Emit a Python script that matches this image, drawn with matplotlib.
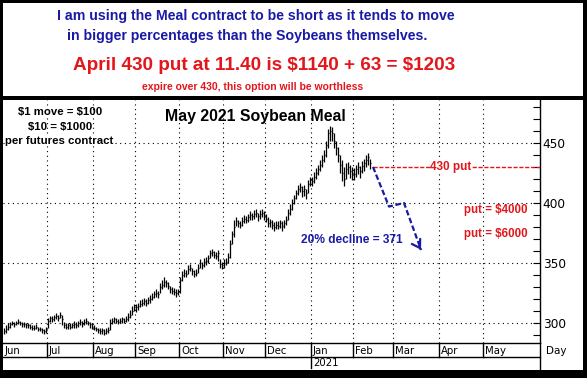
import numpy as np
import matplotlib
matplotlib.use('Agg')
import matplotlib.pyplot as plt
from matplotlib import transforms
from matplotlib.patches import Rectangle
from matplotlib.lines import Line2D
from matplotlib.ticker import MultipleLocator, FixedLocator

# ---------------- data (daily bars, May 2021 Soybean Meal) ----------------
start_date = '2020-06-01'
closes = [
    293, 295, 297, 299, 300, 299, 300, 301, 300, 299, 299, 298, 298, 297, 296, 296, 297, 295, 295, 294, 293, 294,        # Jun
    302, 304, 303, 305, 306, 304, 307, 303, 298, 297, 298, 297, 298, 299, 298, 300, 301, 299, 301, 302, 300, 299, 297,   # Jul
    296, 295, 294, 293, 294, 292, 293, 294, 300, 302, 303, 302, 301, 302, 303, 302, 303, 305, 307, 310, 313,             # Aug
    313, 314, 316, 317, 318, 317, 319, 320, 322, 324, 325, 324, 330, 332, 334, 333, 331, 328, 327, 326, 325, 326,        # Sep
    336, 340, 342, 341, 345, 346, 343, 341, 342, 346, 350, 348, 351, 352, 354, 358, 359, 357, 356, 358, 349, 348,        # Oct
    350, 351, 355, 366, 374, 380, 385, 383, 382, 385, 387, 386, 388, 390, 389, 391, 392, 389, 391, 392, 390,             # Nov
    387, 383, 384, 382, 380, 382, 381, 383, 381, 383, 386, 392, 395, 400, 404, 408, 412, 413, 410, 412, 408, 416, 419,   # Dec
    418, 422, 425, 428, 432, 436, 440, 448, 458, 460, 458, 452, 446, 440, 432, 425, 420, 428, 430, 427, 425,             # Jan
    424, 428, 430, 427, 431, 433, 436, 438, 433,                                                                         # Feb
]
highs = [
    296, 298, 300, 301, 302, 301, 302, 303, 302, 301, 301, 300, 300, 299, 298, 298, 299, 297, 297, 296, 295, 297,
    304, 306, 306, 307, 308, 307, 309, 307, 301, 300, 300, 300, 300, 302, 301, 302, 303, 302, 303, 304, 302, 301, 300,
    298, 297, 296, 296, 296, 295, 296, 297, 303, 304, 305, 304, 303, 304, 305, 304, 306, 308, 311, 314, 316,
    316, 317, 319, 320, 321, 320, 322, 323, 325, 327, 328, 327, 333, 336, 338, 336, 334, 331, 330, 329, 328, 328,
    338, 343, 345, 344, 348, 349, 346, 344, 345, 349, 353, 351, 354, 355, 357, 361, 362, 360, 359, 361, 353, 351,
    353, 354, 358, 369, 377, 386, 388, 386, 385, 388, 390, 389, 391, 393, 392, 394, 395, 392, 394, 395, 393,
    391, 388, 387, 386, 384, 385, 385, 386, 385, 386, 389, 395, 399, 403, 407, 411, 415, 417, 414, 415, 412, 419, 422,
    422, 426, 429, 432, 436, 440, 444, 452, 462, 464, 463, 458, 452, 447, 440, 436, 430, 433, 434, 432, 430,
    429, 432, 434, 431, 435, 437, 440, 442, 437,
]
lows = [
    291, 292, 294, 296, 298, 297, 298, 299, 298, 297, 297, 296, 296, 295, 294, 294, 295, 293, 293, 292, 291, 292,
    296, 301, 301, 302, 303, 302, 304, 298, 296, 295, 295, 295, 296, 296, 296, 297, 298, 297, 298, 299, 298, 296, 295,
    294, 293, 292, 291, 291, 290, 291, 292, 294, 299, 300, 300, 299, 300, 300, 300, 301, 302, 304, 307, 310,
    309, 311, 313, 314, 315, 314, 316, 317, 319, 321, 322, 321, 325, 328, 330, 330, 328, 325, 324, 323, 322, 323,
    325, 335, 338, 338, 341, 343, 340, 338, 339, 342, 346, 345, 347, 348, 350, 354, 356, 354, 353, 352, 346, 345,
    346, 348, 350, 354, 366, 372, 381, 380, 379, 381, 383, 383, 384, 386, 386, 387, 388, 385, 387, 388, 386,
    384, 380, 380, 378, 377, 378, 378, 379, 377, 379, 382, 386, 390, 394, 399, 403, 407, 409, 405, 406, 403, 408, 414,
    414, 417, 420, 423, 427, 430, 434, 438, 446, 452, 452, 446, 440, 434, 425, 418, 414, 420, 424, 421, 419,
    419, 422, 424, 421, 425, 427, 430, 432, 428,
]
month_labels = ['Jun', 'Jul', 'Aug', 'Sep', 'Oct', 'Nov', 'Dec', 'Jan', 'Feb', 'Mar', 'Apr', 'May']
month_starts = ['2020-06-01', '2020-07-01', '2020-08-01', '2020-09-01', '2020-10-01', '2020-11-01',
                '2020-12-01', '2021-01-01', '2021-02-01', '2021-03-01', '2021-04-01', '2021-05-01']
year_label = '2021'
y_major = [300, 350, 400, 450]
put_strike = 430
# projected path (trading-day index, price) drawn as the dashed blue arrow
arrow_days = [184.5, 192.5, 200.0, 208.5]
arrow_prices = [430, 397, 400, 361]

# ---------------- layout helpers ----------------
W, H = 587, 378
plt.rcParams['font.family'] = ['Liberation Sans', 'DejaVu Sans']
fig = plt.figure(figsize=(W / 100, H / 100), dpi=100)
fig.patch.set_facecolor('white')

def fx(px):
    return px / W

def fy(py):
    return 1 - py / H

BLUE = '#1a1aa6'
RED = '#e3161b'

ax = fig.add_axes([fx(3), fy(343), fx(540) - fx(3), fy(100) - fy(343)])
n = min(len(closes), len(highs), len(lows))
idx = np.arange(n)
xmin, xmax = -0.5, 268.0
ymin, ymax = 283.3, 485.8
ax.set_xlim(xmin, xmax)
ax.set_ylim(ymin, ymax)

seps = np.array([np.busday_count(start_date, m) for m in month_starts]) - 0.5

# grid
dots = (0, (1, 3.2))
ax.hlines(y_major, xmin, xmax, colors='black', linestyles=dots, lw=0.8, zorder=1)
ax.vlines(seps[1:], ymin, ymax, colors='black', linestyles=dots, lw=0.8, zorder=1)

# bars
ax.vlines(idx, np.array(lows[:n]), np.array(highs[:n]), colors='black', lw=0.9, zorder=3)
ax.hlines(np.array(closes[:n]), idx, idx + 0.7, colors='black', lw=0.9, zorder=3)

# 430 put line
ax.hlines(put_strike, n + 0.5, xmax, colors=RED, linestyles=(0, (3, 1.2)), lw=1.0, zorder=4)
ax.text(223.5, put_strike, '430 put', color=RED, fontsize=8.5, fontweight='bold',
        ha='center', va='center', zorder=5,
        bbox=dict(facecolor='white', edgecolor='none', pad=0.3))

# projected decline arrow
ax.plot(arrow_days, arrow_prices, color=BLUE, lw=1.6, linestyle=(0, (2.5, 1.2)), zorder=5)
ax.annotate('', xy=(arrow_days[-1], arrow_prices[-1]),
            xytext=(arrow_days[-1] - 0.9, arrow_prices[-1] + 2.5),
            arrowprops=dict(arrowstyle='->,head_length=0.55,head_width=0.35', color=BLUE, lw=1.6),
            zorder=5)

# annotations in the plot
ax.text(174, 369, '20% decline = 371', color=BLUE, fontsize=8.6, fontweight='bold',
        ha='center', va='center', zorder=5, parse_math=False)
ax.text(246, 394, 'put = $4000', color=RED, fontsize=8.3, fontweight='bold',
        ha='center', va='center', zorder=5, parse_math=False)
ax.text(246, 374.5, 'put = $6000', color=RED, fontsize=8.3, fontweight='bold',
        ha='center', va='center', zorder=5, parse_math=False)

# axes styling
for s in ['left', 'top']:
    ax.spines[s].set_visible(False)
ax.spines['right'].set_linewidth(1.0)
ax.spines['bottom'].set_linewidth(1.0)
ax.set_xticks([])
ax.yaxis.tick_right()
ax.yaxis.set_major_locator(FixedLocator(y_major))
ax.yaxis.set_minor_locator(MultipleLocator(10))
ax.tick_params(axis='y', which='both', direction='in', length=5, width=0.8,
               labelsize=8.7, pad=2, colors='black')
for lab in ax.get_yticklabels():
    lab.set_family('DejaVu Sans')

# x-axis label band
bt = transforms.blended_transform_factory(ax.transData, fig.transFigure)
for k, (s, lab) in enumerate(zip(seps, month_labels)):
    bottom = fy(368) if lab == 'Jan' else fy(357)
    if k > 0:
        fig.add_artist(Line2D([s, s], [fy(343), bottom], transform=bt, color='black', lw=1.0))
    ax.text(s + 1.0, fy(350.5), lab, transform=bt, fontsize=7.3, ha='left', va='center',
            family='DejaVu Sans', clip_on=False)
jan = seps[month_labels.index('Jan')]
ax.text(jan + 1.0, fy(362.5), year_label, transform=bt, fontsize=7.3, ha='left', va='center',
        family='DejaVu Sans', clip_on=False)
fig.add_artist(Line2D([fx(3), fx(540)], [fy(357), fy(357)], transform=fig.transFigure, color='black', lw=1.0))
fig.add_artist(Line2D([fx(540), fx(540)], [fy(343), fy(369)], transform=fig.transFigure, color='black', lw=1.0))
fig.text(fx(556), fy(351), 'Day', fontsize=7.5, ha='center', va='center', family='DejaVu Sans')

# title & notes
fig.text(fx(255), fy(116), 'May 2021 Soybean Meal', fontsize=11.4, fontweight='bold', ha='center', va='center')
fig.text(fx(60), fy(112), '$1 move = $100', fontsize=8.2, fontweight='bold', ha='center', va='center',
         parse_math=False)
fig.text(fx(60), fy(127), '$10 = $1000', fontsize=8.2, fontweight='bold', ha='center', va='center',
         parse_math=False)
fig.text(fx(59), fy(141), 'per futures contract', fontsize=8.2, fontweight='bold', ha='center', va='center',
         bbox=dict(facecolor='white', edgecolor='none', pad=0.2))

# header box text
fig.text(fx(256), fy(16), 'I am using the Meal contract to be short as it tends to move',
         color=BLUE, fontsize=10.2, fontweight='bold', ha='center', va='center')
fig.text(fx(247), fy(36), 'in bigger percentages than the Soybeans themselves.',
         color=BLUE, fontsize=10.2, fontweight='bold', ha='center', va='center')
fig.text(fx(264), fy(65), 'April 430 put at 11.40 is $1140 + 63 = $1203',
         color=RED, fontsize=13.6, fontweight='bold', ha='center', va='center', parse_math=False)
fig.text(fx(253), fy(87), 'expire over 430, this option will be worthless',
         color=RED, fontsize=7.5, fontweight='bold', ha='center', va='center')

# black frame bands
for (x, y, w, h) in [(0, 0, 3, H), (583, 0, 4, H), (0, 0, W, 3), (0, 96, W, 4), (0, 370, W, 8)]:
    fig.add_artist(Rectangle((fx(x), fy(y + h)), w / W, h / H, transform=fig.transFigure,
                             facecolor='black', edgecolor='none', zorder=10))

fig.savefig('out.png', dpi=100, facecolor='white')
